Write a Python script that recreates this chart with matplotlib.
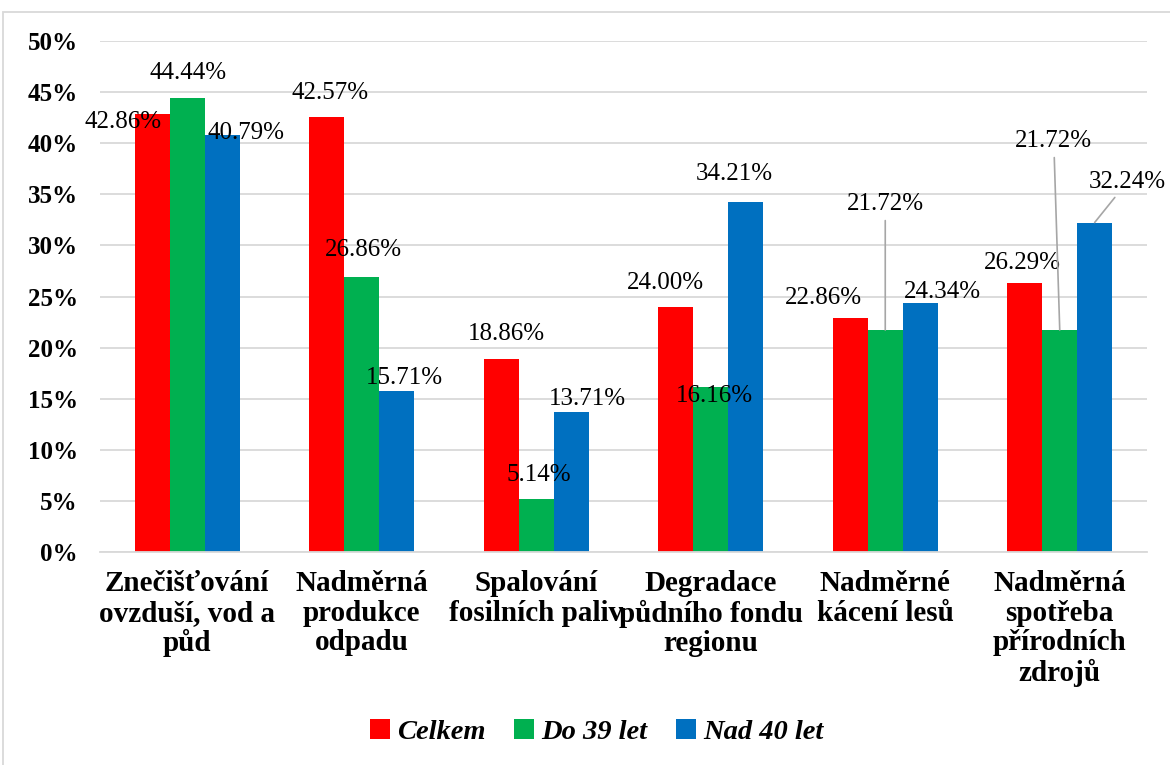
import matplotlib.pyplot as plt
import numpy as np
from matplotlib.patches import Rectangle

categories = [
    'Znečišťování\novzduší, vod a\npůd',
    'Nadměrná\nprodukce\nodpadu',
    'Spalování\nfosilních paliv',
    'Degradace\npůdního fondu\nregionu',
    'Nadměrné\nkácení lesů',
    'Nadměrná\nspotřeba\npřírodních\nzdrojů',
]
series_names = ['Celkem', 'Do 39 let', 'Nad 40 let']
celkem = [42.86, 42.57, 18.86, 24.00, 22.86, 26.29]
do_39 = [44.44, 26.86, 5.14, 16.16, 21.72, 21.72]
nad_40 = [40.79, 15.71, 13.71, 34.21, 24.34, 32.24]
y_ticks = [0, 5, 10, 15, 20, 25, 30, 35, 40, 45, 50]

colors = ['#FF0000', '#00B050', '#0070C0']

# label offsets from bar top, in pixels (dx, dy), and whether a leader line is drawn
offsets = [
    [(-29, -8), (3, 24), (5, 25), (-10, 24), (-27, 20), (-2, 20)],
    [(1, 25), (2, 27), (3, 24), (4, -9), (0, 126), (-6, 189)],
    [(24, 2), (8, 13), (16, 13), (-11, 28), (22, 11), (33, 41)],
]
leaders = [
    [False] * 6,
    [False, False, False, False, True, True],
    [False, False, False, False, False, True],
]

serif = 'Liberation Serif'

fig = plt.figure(figsize=(11.7, 7.65), dpi=100)
ax = fig.add_axes([100 / 1170, 1 - 552 / 765, 1047 / 1170, 511 / 765])

x = np.arange(len(categories))
w = 0.2
all_series = [celkem, do_39, nad_40]
for k, (vals, name, c) in enumerate(zip(all_series, series_names, colors)):
    xs = x + (k - 1) * w
    ax.bar(xs, vals, width=w, color=c, label=name, zorder=2)
    for i, v in enumerate(vals):
        dx, dy = offsets[k][i]
        props = None
        if leaders[k][i]:
            props = dict(arrowstyle='-', color='#A6A6A6', lw=1.2,
                         shrinkA=2, shrinkB=0)
        ax.annotate(f'{v:.2f}%', xy=(xs[i], v), xytext=(dx, dy),
                    textcoords='offset pixels', ha='center', va='center',
                    fontsize=18, family=serif, color='#000000',
                    arrowprops=props, zorder=3)

ax.set_xlim(-0.5, len(categories) - 0.5)
ax.set_ylim(0, 50)
ax.set_yticks(y_ticks)
ax.set_yticklabels([f'{t}%' for t in y_ticks], fontsize=18,
                   fontweight='bold', family=serif)
ax.set_xticks(x)
ax.set_xticklabels(categories, fontsize=21, fontweight='bold',
                   family=serif, linespacing=1.12)
ax.tick_params(axis='y', length=0, pad=16)
ax.tick_params(axis='x', length=0, pad=13)
ax.yaxis.grid(True, color='#D9D9D9', lw=1.3, zorder=0)
ax.set_axisbelow(True)
for s in ['top', 'right', 'left']:
    ax.spines[s].set_visible(False)
ax.spines['bottom'].set_color('#D9D9D9')
ax.spines['bottom'].set_linewidth(1.3)

leg = ax.legend(loc='center', bbox_to_anchor=(0.51, 0.043),
                bbox_transform=fig.transFigure, ncol=3, frameon=False,
                handlelength=0.7, handleheight=0.7, handletextpad=0.25,
                columnspacing=1.0,
                prop=dict(family=serif, size=20.5, weight='bold', style='italic'))

fig.patches.append(Rectangle((3 / 1170, -0.01), 1.1, 1 - 12 / 765 + 0.01,
                             transform=fig.transFigure, fill=False,
                             edgecolor='#D9D9D9', lw=1.3))

fig.savefig('out.png', dpi=100)
